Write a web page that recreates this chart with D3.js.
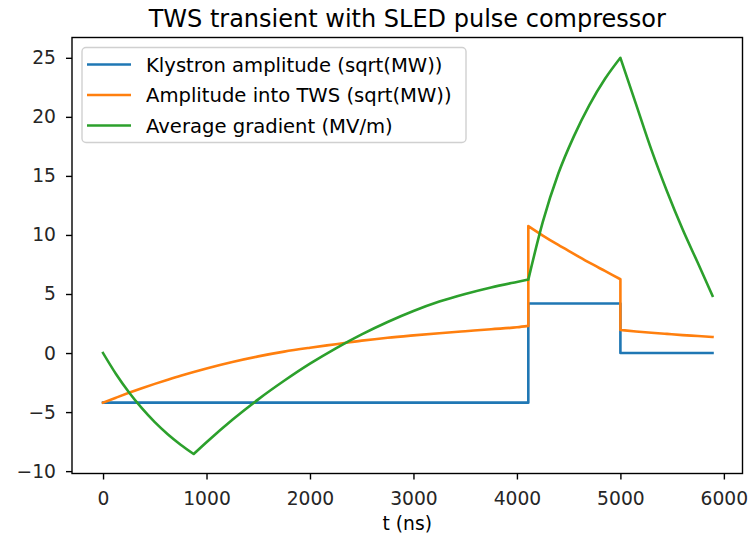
<!DOCTYPE html>
<html>
<head>
<meta charset="utf-8">
<script src="https://cdn.jsdelivr.net/npm/d3@7"></script>
<style>
  html, body { margin: 0; padding: 0; background: #fff; }
  svg { display: block; font-family: "DejaVu Sans", sans-serif; }
</style>
</head>
<body>
<svg id="chart" width="748" height="539"></svg>
<script>
// ---- data ----
const seriesNames = [
  "Klystron amplitude (sqrt(MW))",
  "Amplitude into TWS (sqrt(MW))",
  "Average gradient (MV/m)"
];
const tKlystron = [0, 4110, 4110, 5000, 5000, 5890];
const klystron  = [-4.2, -4.2, 4.2, 4.2, 0, 0];

const tTws = [0, 125, 250, 375, 500, 625, 750, 876, 1000, 1250, 1500, 1750, 2000, 2250, 2500, 2750, 3000,
              3250, 3500, 3750, 4000, 4110, 4110, 4250, 4400, 4550, 4700, 4850, 5000,
              5000, 5150, 5300, 5450, 5600, 5750, 5890];
const ampTws = [-4.2, -3.78, -3.37, -2.98, -2.61, -2.26, -1.92, -1.6, -1.3, -0.75, -0.28, 0.12, 0.45, 0.75, 1.05,
                1.3, 1.5, 1.68, 1.85, 2.02, 2.18, 2.3, 10.75, 9.95, 9.15, 8.4, 7.65, 6.95, 6.25,
                1.95, 1.83, 1.72, 1.62, 1.52, 1.44, 1.36];
const gradient = [0, -1.77, -3.32, -4.67, -5.85, -6.87, -7.76, -8.55, -7.55, -5.65, -3.92, -2.35, -0.9, 0.4, 1.58,
                  2.63, 3.56, 4.36, 5.0, 5.55, 6.02, 6.22, 6.22, 11.1, 15.2, 18.35, 21.0, 23.2, 25.0,
                  25.0, 21.1, 17.2, 13.7, 10.5, 7.6, 4.85];
// indices where each TWS series has a kink or jump (segment breaks)
const breaksAmp = [21, 28];
const breaksGrad = [7, 21, 28];

const xTicks = [0, 1000, 2000, 3000, 4000, 5000, 6000];
const yTicks = [-10, -5, 0, 5, 10, 15, 20, 25];
const colors = ["#1f77b4", "#ff7f0e", "#2ca02c"];
const titleText = "TWS transient with SLED pulse compressor";
const xLabel = "t (ns)";

// ---- layout ----
const svg = d3.select("#chart");
const L = 72, R = 742.5, T = 37.5, B = 473.5;
const x = d3.scaleLinear().domain([-300, 6180]).range([L, R]);
const y = d3.scaleLinear().domain([-10.2, 26.72]).range([B, T]);
const tickFs = 18.7, legFs = 19.6, titleFs = 24;

const series = [
  { name: seriesNames[0], t: tKlystron, v: klystron, color: colors[0], breaks: null },
  { name: seriesNames[1], t: tTws, v: ampTws, color: colors[1], breaks: breaksAmp },
  { name: seriesNames[2], t: tTws, v: gradient, color: colors[2], breaks: breaksGrad }
];

const straight = d3.line().x(d => x(d[0])).y(d => y(d[1]));
const curved = d3.line().x(d => x(d[0])).y(d => y(d[1])).curve(d3.curveMonotoneX);

function pathFor(s) {
  const pts = s.t.map((t, i) => [t, s.v[i]]);
  if (!s.breaks) return straight(pts);
  const segs = [];
  let start = 0;
  s.breaks.forEach(b => {
    segs.push(pts.slice(start, b + 1));
    start = (pts[b + 1] && pts[b + 1][0] === pts[b][0]) ? b + 1 : b;
  });
  segs.push(pts.slice(start));
  return segs.map((seg, i) => {
    const d = seg.length > 2 ? curved(seg) : straight(seg);
    return i === 0 ? d : "L" + d.slice(1);
  }).join("");
}

const plot = svg.append("g");
series.forEach(s => {
  plot.append("path")
    .attr("d", pathFor(s))
    .attr("fill", "none")
    .attr("stroke", s.color)
    .attr("stroke-width", 2.6)
    .attr("stroke-linejoin", "round")
    .attr("stroke-linecap", "square");
});

// axes
const xAxis = d3.axisBottom(x).tickValues(xTicks).tickFormat(d3.format("d")).tickSize(6).tickPadding(12);
const yAxis = d3.axisLeft(y).tickValues(yTicks).tickFormat(d3.format("d")).tickSize(6).tickPadding(10);
const gx = svg.append("g").attr("transform", `translate(0,${B})`).call(xAxis);
const gy = svg.append("g").attr("transform", `translate(${L},0)`).call(yAxis);
[gx, gy].forEach(g => {
  g.select(".domain").remove();
  g.selectAll(".tick line").attr("stroke", "#000").attr("stroke-width", 1.4);
  g.selectAll(".tick text").attr("fill", "#262626").style("font-size", tickFs + "px")
    .style("font-family", "DejaVu Sans");
});
// frame
svg.append("rect").attr("x", L).attr("y", T).attr("width", R - L).attr("height", B - T)
  .attr("fill", "none").attr("stroke", "#000").attr("stroke-width", 1.4);

// title & label
svg.append("text").attr("x", (L + R) / 2).attr("y", 27).attr("text-anchor", "middle")
  .style("font-size", titleFs + "px").attr("fill", "#000").text(titleText);
svg.append("text").attr("x", (L + R) / 2).attr("y", 530).attr("text-anchor", "middle")
  .style("font-size", tickFs + "px").attr("fill", "#000").text(xLabel);

// legend
const lg = svg.append("g").attr("transform", `translate(${L + 10},${T + 10})`);
lg.append("rect").attr("x", 0).attr("y", 0).attr("width", 384).attr("height", 95)
  .attr("rx", 4).attr("fill", "#fff").attr("fill-opacity", 0.8)
  .attr("stroke", "#d0d0d0").attr("stroke-width", 1.4);
series.forEach((s, i) => {
  const yy = 17 + i * 30.5;
  lg.append("line").attr("x1", 5).attr("x2", 49).attr("y1", yy).attr("y2", yy)
    .attr("stroke", s.color).attr("stroke-width", 2.6);
  lg.append("text").attr("x", 64).attr("y", yy).attr("dy", "0.36em")
    .style("font-size", legFs + "px").attr("fill", "#000").text(s.name);
});
</script>
</body>
</html>
